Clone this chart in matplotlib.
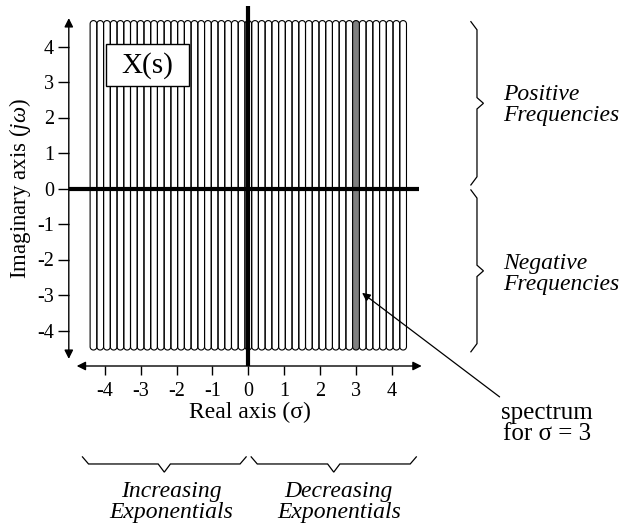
import numpy as np
import matplotlib
matplotlib.use("Agg")
import matplotlib.pyplot as plt
from matplotlib.path import Path
from matplotlib.patches import PathPatch, Rectangle

plt.rcParams["font.family"] = ["Liberation Serif", "DejaVu Serif"]
plt.rcParams["mathtext.fontset"] = "custom"
plt.rcParams["mathtext.rm"] = "Liberation Serif"
plt.rcParams["mathtext.it"] = "Liberation Serif:italic"

# one narrow strip (spectrum) per value of sigma
STRIP_STEP = 0.1875
STRIP_SIGMA = np.arange(-23, 24) * STRIP_STEP
STRIP_TOP = 4.73
STRIP_BOTTOM = -4.55
HIGHLIGHT_SIGMA = 3.0

X_TICKS = [-4, -3, -2, -1, 0, 1, 2, 3, 4]
Y_TICKS = [-4, -3, -2, -1, 0, 1, 2, 3, 4]
X_TICK_LABELS = ["-4", "-3", "-2", "-1", "0", "1", "2", "3", "4"]
Y_TICK_LABELS = ["-4", "-3", "-2", "-1", "0", "1", "2", "3", "4"]


def strip_path(center, half, top, bottom):
    t = np.linspace(0, np.pi, 24)
    top_x = center + half * np.cos(t)
    top_y = top - half + half * np.sin(t)
    bot_x = center + half * np.cos(t + np.pi)
    bot_y = bottom + half + half * np.sin(t + np.pi)
    xs = np.concatenate([top_x, bot_x, top_x[:1]])
    ys = np.concatenate([top_y, bot_y, top_y[:1]])
    return Path(np.column_stack([xs, ys]))


def vbrace(ax, x_end, x_mid, x_tip, y_top, y_bot, diag=0.23, tip=0.16):
    ym = (y_top + y_bot) / 2
    xs = [x_end, x_mid, x_mid, x_tip, x_mid, x_mid, x_end]
    ys = [y_top, y_top - diag, ym + tip, ym, ym - tip, y_bot + diag, y_bot]
    ax.plot(xs, ys, color="black", lw=0.9, solid_joinstyle="miter")


def hbrace(ax, x_left, x_right, y_end, y_mid, y_tip, diag=0.17, tip=0.17):
    xm = (x_left + x_right) / 2
    xs = [x_left, x_left + diag, xm - tip, xm, xm + tip, x_right - diag, x_right]
    ys = [y_end, y_mid, y_mid, y_tip, y_mid, y_mid, y_end]
    ax.plot(xs, ys, color="black", lw=0.9, solid_joinstyle="miter")


fig = plt.figure(figsize=(6.38, 5.24), dpi=100)
ax = fig.add_axes([0, 0, 1, 1])
ax.set_xlim(-248.3 / 35.9, (638 - 248.3) / 35.9)
ax.set_ylim(-(524 - 188.5) / 35.5, 188.5 / 35.5)

half = STRIP_STEP / 2
for sigma in STRIP_SIGMA:
    hl = abs(sigma - HIGHLIGHT_SIGMA) < 1e-6
    ax.add_patch(PathPatch(strip_path(sigma, half, STRIP_TOP, STRIP_BOTTOM),
                           facecolor="#808080" if hl else "none",
                           edgecolor="black", lw=0.8, zorder=2 if hl else 1))

# axes at -5 with arrows; ticks from matplotlib
for side in ["top", "right", "left", "bottom"]:
    ax.spines[side].set_visible(False)
ax.spines["left"].set_position(("data", -5))
ax.spines["bottom"].set_position(("data", -5))
ax.set_xticks(X_TICKS, X_TICK_LABELS)
ax.set_yticks(Y_TICKS, Y_TICK_LABELS)
ax.tick_params(axis="x", direction="out", length=6.5, width=1, pad=5, labelsize=14.5)
ax.tick_params(axis="y", direction="out", length=8, width=1, pad=2.5, labelsize=14.5)
arrow = dict(arrowstyle="<|-|>", lw=1, color="black", shrinkA=0, shrinkB=0,
             mutation_scale=13)
ax.annotate("", xy=(-5, 4.8), xytext=(-5, -4.8), arrowprops=arrow)
ax.annotate("", xy=(4.83, -5), xytext=(-4.78, -5), arrowprops=arrow)

# heavy lines on the sigma and j-omega axes
ax.plot([0, 0], [-5, 5.14], color="black", lw=3, solid_capstyle="butt", zorder=4)
ax.plot([-5, 4.76], [0, 0], color="black", lw=3, solid_capstyle="butt", zorder=4)

ax.add_patch(Rectangle((-3.96, 2.89), 2.32, 1.17, facecolor="white",
                       edgecolor="black", lw=1, zorder=3))
ax.text(-2.80, 3.45, "X(s)", fontsize=21, ha="center", va="center", zorder=5)

ax.text(0.05, -6.32, "Real axis (σ)", fontsize=17, ha="center", va="center")
ax.text(-6.36, 0, "Imaginary axis ($j\\omega$)", fontsize=16.5, rotation=90,
        ha="center", va="center")

vbrace(ax, 6.20, 6.37, 6.55, 4.70, 0.10)
vbrace(ax, 6.20, 6.37, 6.55, -0.04, -4.60)
ax.text(7.10, 2.35, "Positive\nFrequencies", fontsize=17, style="italic",
        ha="left", va="center", linespacing=1.0)
ax.text(7.10, -2.41, "Negative\nFrequencies", fontsize=17, style="italic",
        ha="left", va="center", linespacing=1.0)

hbrace(ax, -4.62, -0.06, -7.56, -7.76, -7.99)
hbrace(ax, 0.08, 4.68, -7.56, -7.76, -7.99)
ax.text(-2.15, -8.83, "Increasing\nExponentials", fontsize=17, style="italic",
        ha="center", va="center", linespacing=1.0)
ax.text(2.52, -8.83, "Decreasing\nExponentials", fontsize=17, style="italic",
        ha="center", va="center", linespacing=1.0)

ax.text(8.32, -6.61, "spectrum\nfor σ = 3", fontsize=18, ha="center",
        va="center", linespacing=0.95)
ax.annotate("", xy=(3.17, -2.94), xytext=(7.0, -5.87),
            arrowprops=dict(arrowstyle="-|>", lw=0.9, color="black",
                            shrinkA=0, shrinkB=0, mutation_scale=12))

fig.savefig("out.png", dpi=100)
